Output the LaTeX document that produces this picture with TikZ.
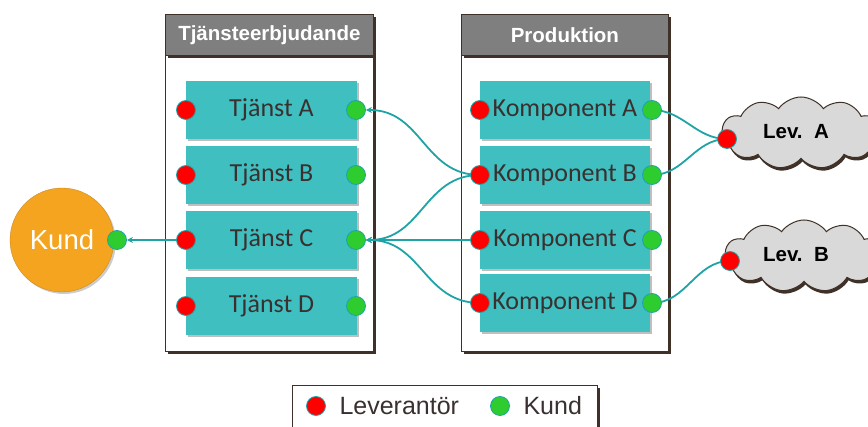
\documentclass[tikz,border=0pt]{standalone}
\usepackage{fontspec}
\setmainfont{Liberation Sans}
\newfontfamily\calib{Carlito}
\usetikzlibrary{shapes.symbols,arrows.meta,shadows}
\definecolor{teal1}{HTML}{40BFC1}
\definecolor{tealline}{HTML}{1FA3A5}
\definecolor{dotred}{HTML}{FF0000}
\definecolor{dotgreen}{HTML}{2FCC2F}
\definecolor{hdrgray}{HTML}{7F7F7F}
\definecolor{brownline}{HTML}{3F3128}
\definecolor{kundorange}{HTML}{F4A41F}
\definecolor{cloudgray}{HTML}{D9D9D9}
\definecolor{txtdark}{HTML}{3A3030}
\pgfdeclarelayer{back}
\pgfdeclarelayer{mid}
\pgfsetlayers{back,mid,main}
\tikzset{
  panelbox/.style={draw=brownline, line width=0.8pt, fill=white,
     drop shadow={shadow xshift=3pt, shadow yshift=-3pt, fill=brownline, opacity=1}},
  hdrbox/.style={draw=brownline, line width=0.8pt, fill=hdrgray, text=white,
     font=\bfseries\fontsize{20.5}{22}\selectfont, minimum height=41pt, anchor=north west,
     drop shadow={shadow xshift=3pt, shadow yshift=-3pt, fill=brownline, opacity=1}},
  svcbox/.style={fill=teal1, minimum width=171pt, minimum height=58pt, inner sep=0pt,
     text=txtdark, font=\calib\fontsize{26}{28}\selectfont,
     drop shadow={shadow xshift=2pt, shadow yshift=-2pt, fill=black, opacity=0.25}},
  compbox/.style={svcbox, minimum width=170pt},
  rdot/.style={circle, fill=dotred, draw=tealline, line width=0.8pt, minimum size=19pt, inner sep=0pt},
  gdot/.style={circle, fill=dotgreen, draw=tealline, line width=0.8pt, minimum size=19pt, inner sep=0pt},
  conn/.style={draw=tealline, line width=1.8pt},
  tip/.style={-{Stealth[length=6pt,width=6pt]}},
  levcloud/.style={cloud, cloud puffs=11, cloud puff arc=110, aspect=2.1, draw=brownline, line width=1pt,
     fill=cloudgray, minimum width=160pt, minimum height=72pt, inner sep=0pt,
     drop shadow={shadow xshift=1.5pt, shadow yshift=-3pt, fill=brownline, opacity=1}},
  levtext/.style={font=\bfseries\fontsize{20.5}{22}\selectfont, text=black},
}
\begin{document}
\begin{tikzpicture}[x=1pt,y=-1pt]
\useasboundingbox (0,0) rectangle (868,427);

% panels
\begin{pgfonlayer}{back}
\node[panelbox, minimum width=208pt, minimum height=337pt, anchor=north west, inner sep=0pt] (p1) at (165,14) {};
\node[hdrbox, minimum width=208pt] (h1) at (165,14) {Tjänsteerbjudande};
\node[panelbox, minimum width=207pt, minimum height=337pt, anchor=north west, inner sep=0pt] (p2) at (461,14) {};
\node[hdrbox, minimum width=207pt] (h2) at (461,14) {Produktion};
\node[panelbox, minimum width=305pt, minimum height=60pt, anchor=north west, inner sep=0pt] (leg) at (292,385) {};
\end{pgfonlayer}

% service boxes
\node[svcbox] (tA) at (271.5,110) {Tjänst A};
\node[svcbox] (tB) at (271.5,175) {Tjänst B};
\node[svcbox] (tC) at (271.5,240) {Tjänst C};
\node[svcbox] (tD) at (271.5,306) {Tjänst D};
\foreach \n/\y in {A/110,B/175,C/240,D/306}{
  \node[rdot] (tr\n) at (186,\y) {};
  \node[gdot] (tg\n) at (356,\y) {};
}

% component boxes
\node[compbox] (kA) at (565,110) {Komponent A};
\node[compbox] (kB) at (565,175) {Komponent B};
\node[compbox] (kC) at (565,240) {Komponent C};
\node[compbox] (kD) at (565,303) {Komponent D};
\foreach \n/\y in {A/110,B/175,C/240,D/303}{
  \node[rdot] (kr\n) at (480,\y) {};
  \node[gdot] (kg\n) at (652,\y) {};
}

% Kund
\node[circle, fill=kundorange, draw=kundorange!80!black, line width=0.3pt, minimum size=104pt, inner sep=0pt,
  text=white, font=\fontsize{27.5}{30}\selectfont,
  drop shadow={shadow xshift=2pt, shadow yshift=-2pt, fill=black, opacity=0.2}] (kund) at (62,240) {Kund};
\node[gdot] (kundg) at (117,240) {};

% clouds
\node[levcloud] (cA) at (801,133) {};
\node[levtext] (lA) at (796,132) {Lev.\ \ A};
\node[rdot] (cAr) at (727,139) {};
\node[levcloud] (cB) at (804,256) {};
\node[levtext] (lB) at (796,255) {Lev.\ \ B};
\node[rdot] (cBr) at (730,261) {};

% connectors
\begin{pgfonlayer}{mid}
\draw[conn, tip] (krB.center) to[out=180, in=0, looseness=1.1] (tgA.east);
\draw[conn, tip] (krB.center) to[out=180, in=0, looseness=1.1] (tgC.east);
\draw[conn, tip] (krC.center) -- (tgC.east);
\draw[conn, tip] (krD.center) to[out=180, in=0, looseness=1.1] (tgC.east);
\draw[conn, tip] (trC.center) -- (kundg.east);
\draw[conn] (kgA.center) to[out=0, in=180, looseness=1] (cAr.center);
\draw[conn] (kgB.center) to[out=0, in=180, looseness=1] (cAr.center);
\draw[conn] (kgD.center) to[out=0, in=180, looseness=1] (cBr.center);
\end{pgfonlayer}

% legend
\node[rdot] (lr) at (316,406) {};
\node[anchor=west, text=txtdark, font=\fontsize{25}{27}\selectfont] (lrt) at (336,406) {Leverantör};
\node[gdot] (lg) at (500,406) {};
\node[anchor=west, text=txtdark, font=\fontsize{25}{27}\selectfont] (lgt) at (520,406) {Kund};
\end{tikzpicture}
\end{document}
